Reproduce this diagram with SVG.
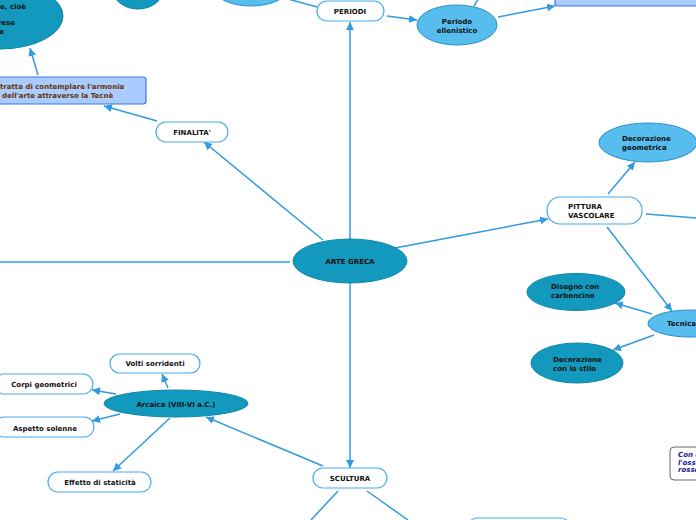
<svg xmlns="http://www.w3.org/2000/svg" width="696" height="520" viewBox="0 0 696 520">
<defs>
<marker id="arr" markerUnits="userSpaceOnUse" markerWidth="9" markerHeight="8" refX="8" refY="4" orient="auto">
<path d="M0,0 L8,4 L0,8 z" fill="#2f9be0"/>
</marker>
<style>
.c{stroke:#2f9be0;stroke-width:1.5;fill:none}
.a{marker-end:url(#arr)}
.box{fill:#fff;stroke:#45aaec;stroke-width:1.2}
.dk{fill:#1399bd;stroke:#0f86a8;stroke-width:1}
.lt{fill:#57bdee;stroke:#2a8dcc;stroke-width:1}
.note{fill:#a9cbfd;stroke:#3a78e6;stroke-width:1.2}
.t{font-family:"DejaVu Sans",Verdana,sans-serif;font-size:7px;font-weight:bold;fill:#111}
.m{text-anchor:middle}
.br{fill:#663300}
.it{font-style:italic;fill:#1a1a9a}
</style>
</defs>
<rect width="696" height="520" fill="#fff"/>
<g id="connectors">
<line class="c a" x1="350" y1="239" x2="350" y2="22"/>
<line class="c a" x1="323" y1="240" x2="204" y2="142"/>
<line class="c a" x1="157" y1="121" x2="104" y2="106"/>
<line class="c a" x1="38" y1="75" x2="30" y2="48"/>
<line class="c" x1="290" y1="262" x2="0" y2="262"/>
<line class="c a" x1="395" y1="248" x2="548" y2="219"/>
<line class="c a" x1="608" y1="194" x2="635" y2="162"/>
<line class="c" x1="646" y1="214" x2="696" y2="218"/>
<line class="c a" x1="607" y1="227" x2="672" y2="311"/>
<line class="c a" x1="652" y1="314" x2="615" y2="303"/>
<line class="c a" x1="654" y1="335" x2="613" y2="350"/>
<line class="c a" x1="350" y1="283" x2="350" y2="468"/>
<line class="c a" x1="323" y1="466" x2="206" y2="417"/>
<line class="c" x1="338" y1="491" x2="311" y2="520"/>
<line class="c" x1="367" y1="491" x2="408" y2="520"/>
<line class="c a" x1="168" y1="388" x2="162" y2="374"/>
<line class="c a" x1="116" y1="394" x2="92" y2="390"/>
<line class="c a" x1="120" y1="414" x2="92" y2="421"/>
<line class="c a" x1="170" y1="418" x2="113" y2="471"/>
<line class="c a" x1="387" y1="16" x2="417" y2="20"/>
<line class="c a" x1="498" y1="17" x2="555" y2="6"/>
<line class="c" x1="474" y1="6" x2="479" y2="-2"/>
<line class="c" x1="288" y1="-1" x2="317" y2="7"/>
</g>
<g id="n-topleft">
<ellipse class="dk" cx="0" cy="16" rx="63" ry="33"/>
<text class="t" x="26" y="9" text-anchor="end">e, cioè</text>
<text class="t" x="15" y="25" text-anchor="end">rese</text>
<text class="t" x="4" y="34" text-anchor="end">e</text>
</g>
<g id="n-top1"><ellipse class="dk" cx="138" cy="-12" rx="26" ry="21"/></g>
<g id="n-top2"><ellipse class="lt" cx="251" cy="-14" rx="39" ry="20"/></g>
<g id="n-periodi">
<rect class="box" x="317" y="1" width="67" height="20" rx="10"/>
<text class="t m" x="350" y="14">PERIODI</text>
</g>
<g id="n-ellenistico">
<ellipse class="lt" cx="457" cy="25" rx="40" ry="20"/>
<text class="t m" x="457" y="24">Periodo</text>
<text class="t m" x="457" y="33">ellenistico</text>
</g>
<g id="n-topright"><rect class="note" x="555" y="-12" width="150" height="18" rx="3"/></g>
<g id="n-finalita-note">
<rect class="note" x="-10" y="77" width="156" height="27" rx="3"/>
<text class="t br" x="0" y="89">tratta di contemplare l'armonia</text>
<text class="t br" x="2" y="98">dell'arte attraverso la Tecnè</text>
</g>
<g id="n-finalita">
<rect class="box" x="156" y="122" width="72" height="20" rx="10"/>
<text class="t m" x="192" y="135">FINALITA'</text>
</g>
<g id="n-arte">
<ellipse class="dk" cx="350" cy="261" rx="57" ry="22"/>
<text class="t m" x="350" y="264">ARTE GRECA</text>
</g>
<g id="n-pittura">
<rect class="box" x="547" y="197" width="95" height="27" rx="13"/>
<text class="t" x="568" y="209">PITTURA</text>
<text class="t" x="568" y="218">VASCOLARE</text>
</g>
<g id="n-geometrica">
<ellipse class="lt" cx="648" cy="142.5" rx="49" ry="19.5"/>
<text class="t" x="622" y="141">Decorazione</text>
<text class="t" x="622" y="150">geometrica</text>
</g>
<g id="n-tecnica">
<ellipse class="lt" cx="690" cy="323.5" rx="42" ry="13.5"/>
<text class="t" x="667" y="326">Tecnica</text>
</g>
<g id="n-disegno">
<ellipse class="dk" cx="576" cy="292" rx="49" ry="18.5"/>
<text class="t" x="551" y="289">Disegno con</text>
<text class="t" x="551" y="298">carboncino</text>
</g>
<g id="n-stilo">
<ellipse class="dk" cx="577" cy="363" rx="46" ry="20"/>
<text class="t" x="553" y="362">Decorazione</text>
<text class="t" x="553" y="371">con lo stilo</text>
</g>
<g id="n-note-right">
<rect x="670" y="447" width="40" height="33" rx="4" fill="#fff" stroke="#666" stroke-width="1"/>
<text class="t it" x="678" y="457">Con c</text>
<text class="t it" x="678" y="465">l'ossi</text>
<text class="t it" x="678" y="472">rosso</text>
</g>
<g id="n-scultura">
<rect class="box" x="313" y="468" width="74" height="20" rx="10"/>
<text class="t m" x="350" y="481">SCULTURA</text>
</g>
<g id="n-bottom"><rect class="box" x="468" y="518" width="102" height="20" rx="9"/></g>
<g id="n-arcaica">
<ellipse class="dk" cx="176" cy="403.5" rx="72" ry="13.5"/>
<text class="t m" x="176" y="407">Arcaica (VIII-VI a.C.)</text>
</g>
<g id="n-volti">
<rect class="box" x="110" y="354" width="90" height="19" rx="9.5"/>
<text class="t m" x="155" y="366">Volti sorridenti</text>
</g>
<g id="n-corpi">
<rect class="box" x="-6" y="374" width="99" height="20" rx="10"/>
<text class="t m" x="44" y="387">Corpi geometrici</text>
</g>
<g id="n-aspetto">
<rect class="box" x="-6" y="417" width="100" height="20" rx="10"/>
<text class="t m" x="45" y="431">Aspetto solenne</text>
</g>
<g id="n-effetto">
<rect class="box" x="48" y="472" width="103" height="20" rx="10"/>
<text class="t m" x="100" y="485">Effetto di staticità</text>
</g>
</svg>
